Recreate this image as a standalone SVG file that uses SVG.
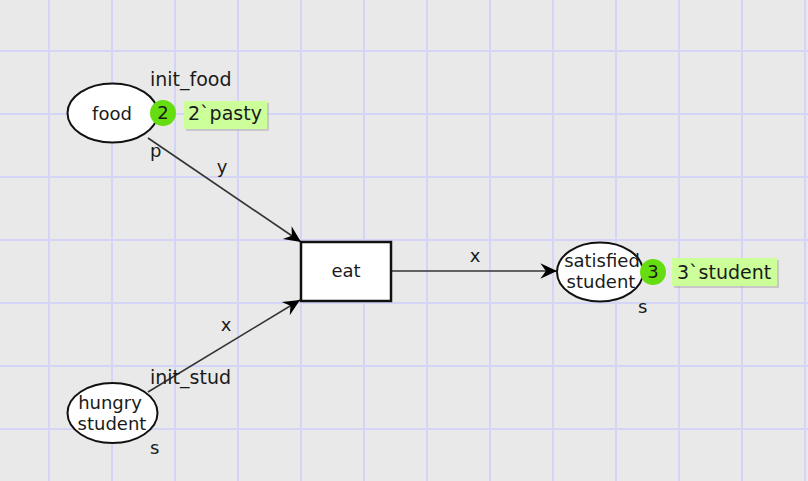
<svg xmlns="http://www.w3.org/2000/svg" width="808" height="481" viewBox="0 0 808 481">
<style>
  text { font-family: "DejaVu Sans", Verdana, sans-serif; font-size: 18px; fill: #1a1a1a; }
  .lbl { font-size: 19px; }
  .grid line { stroke: #d4d4f6; stroke-width: 2; }
  .place { fill: #ffffff; stroke: #111111; stroke-width: 2; }
  .trans { fill: #ffffff; stroke: #111111; stroke-width: 2.5; }
  .arc { stroke: #333333; stroke-width: 1.6; fill: none; marker-end: url(#arrow); }
  .token { fill: #66dd11; }
  .mark { fill: #ccff99; }
  .shadow { fill: #a0a0a0; opacity: 0.45; }
  .c { text-anchor: middle; }
</style>
<defs>
  <marker id="arrow" markerUnits="userSpaceOnUse" markerWidth="20" markerHeight="20" refX="0" refY="0" viewBox="-16 -8 18 16" orient="auto">
    <path d="M0,0 L-15,-7 L-10,0 L-15,7 Z" fill="#000000"/>
  </marker>
</defs>
<rect x="0" y="0" width="808" height="481" fill="#e9e9e9"/>
<g class="grid">
  <line x1="49" y1="0" x2="49" y2="481"/>
  <line x1="112" y1="0" x2="112" y2="481"/>
  <line x1="175" y1="0" x2="175" y2="481"/>
  <line x1="238" y1="0" x2="238" y2="481"/>
  <line x1="301" y1="0" x2="301" y2="481"/>
  <line x1="364" y1="0" x2="364" y2="481"/>
  <line x1="427" y1="0" x2="427" y2="481"/>
  <line x1="490" y1="0" x2="490" y2="481"/>
  <line x1="553" y1="0" x2="553" y2="481"/>
  <line x1="616" y1="0" x2="616" y2="481"/>
  <line x1="679" y1="0" x2="679" y2="481"/>
  <line x1="742" y1="0" x2="742" y2="481"/>
  <line x1="805" y1="0" x2="805" y2="481"/>
  <line x1="0" y1="51" x2="808" y2="51"/>
  <line x1="0" y1="114" x2="808" y2="114"/>
  <line x1="0" y1="177" x2="808" y2="177"/>
  <line x1="0" y1="240" x2="808" y2="240"/>
  <line x1="0" y1="303" x2="808" y2="303"/>
  <line x1="0" y1="366" x2="808" y2="366"/>
  <line x1="0" y1="429" x2="808" y2="429"/>
</g>
<g id="arcs">
  <line class="arc" x1="148" y1="138" x2="301" y2="242"/>
  <text x="222" y="173" class="c">y</text>
  <line class="arc" x1="148" y1="392" x2="300" y2="300"/>
  <text x="226" y="331" class="c">x</text>
  <line class="arc" x1="391" y1="271" x2="557" y2="271"/>
  <text x="475" y="262" class="c">x</text>
</g>
<g id="food">
  <ellipse class="place" cx="112.5" cy="113" rx="45" ry="29.5"/>
  <text x="112" y="120" class="c">food</text>
  <text x="150" y="86" class="lbl">init_food</text>
  <text x="150" y="157">p</text>
  <circle class="token" cx="163" cy="113" r="13"/>
  <text x="163" y="119" class="c">2</text>
  <rect class="shadow" x="186" y="103" width="83" height="28"/>
  <rect class="mark" x="184" y="101" width="83" height="28"/>
  <text x="188" y="120" class="lbl">2`pasty</text>
</g>
<g id="eat">
  <rect class="trans" x="301" y="242" width="90" height="59"/>
  <text x="346" y="277" class="c">eat</text>
</g>
<g id="satisfied_student">
  <ellipse class="place" cx="600" cy="272" rx="43" ry="29.5"/>
  <text x="602" y="267" class="c">satisfied</text>
  <text x="601" y="288" class="c">student</text>
  <text x="638" y="313">s</text>
  <circle class="token" cx="653" cy="272" r="13"/>
  <text x="653" y="278" class="c">3</text>
  <rect class="shadow" x="674" y="260" width="105" height="28"/>
  <rect class="mark" x="672" y="258" width="105" height="28"/>
  <text x="677" y="279" class="lbl">3`student</text>
</g>
<g id="hungry_student">
  <ellipse class="place" cx="112.5" cy="413" rx="45" ry="30"/>
  <text x="110" y="409" class="c">hungry</text>
  <text x="112" y="430" class="c">student</text>
  <text x="150" y="384" class="lbl">init_stud</text>
  <text x="150" y="454">s</text>
</g>
</svg>
